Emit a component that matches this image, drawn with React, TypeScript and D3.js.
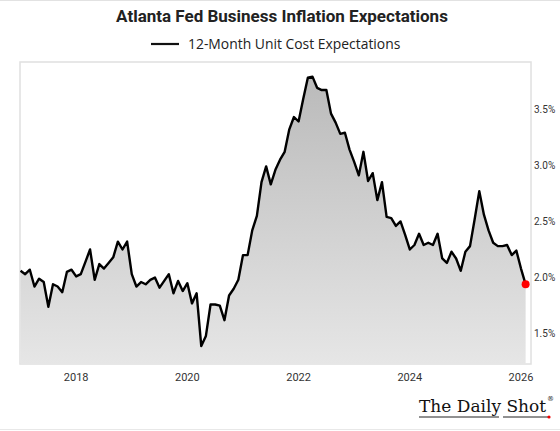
import React from 'react';
import * as d3 from 'd3';

// monthly readings, Jan 2017 .. Feb 2026
const startYear = 2017;
const unitCost = [
  2.06, 2.03, 2.07, 1.92, 1.99, 1.96, 1.74, 1.94, 1.92, 1.87, 2.05, 2.07,
  2.01, 2.03, 2.14, 2.25, 1.98, 2.12, 2.08, 2.13, 2.18, 2.32, 2.25, 2.32,
  2.03, 1.92, 1.96, 1.94, 1.98, 2.0, 1.91, 1.97, 2.03, 1.86, 1.97, 1.88,
  1.95, 1.77, 1.86, 1.39, 1.48, 1.76, 1.76, 1.75, 1.62, 1.84, 1.9, 1.98,
  2.2, 2.2, 2.42, 2.55, 2.85, 2.99, 2.83, 2.96, 3.05, 3.12, 3.32, 3.43,
  3.39, 3.59, 3.78, 3.79, 3.69, 3.67, 3.67, 3.46, 3.38, 3.28, 3.29, 3.14,
  3.03, 2.91, 3.12, 2.86, 2.93, 2.69, 2.85, 2.54, 2.53, 2.46, 2.5, 2.38,
  2.25, 2.29, 2.39, 2.29, 2.31, 2.29, 2.39, 2.17, 2.13, 2.23, 2.17, 2.06,
  2.23, 2.28, 2.52, 2.77, 2.56, 2.42, 2.31, 2.28, 2.28, 2.29, 2.2, 2.24,
  2.08, 1.94,
];
const xTicks = [2018, 2020, 2022, 2024, 2026];
const yTicks = [1.5, 2.0, 2.5, 3.0, 3.5];

const title = 'Atlanta Fed Business Inflation Expectations';
const seriesName = '12-Month Unit Cost Expectations';

const W = 560, H = 431;
const plot = { left: 20, right: 531, top: 62, bottom: 364 };
const font = 'Roboto, "Open Sans", sans-serif';

type Pt = { t: number; v: number };
const points: Pt[] = unitCost.map((v, i) => ({ t: startYear + i / 12, v }));

const x = d3.scaleLinear().domain([2016.99, 2026.18]).range([plot.left, plot.right]);
const y = d3.scaleLinear().domain([1.23, 3.92]).range([plot.bottom, plot.top]);

const linePath = d3.line<Pt>().x((d) => x(d.t)).y((d) => y(d.v))(points) || '';
const areaPath = d3.area<Pt>().x((d) => x(d.t)).y0(plot.bottom).y1((d) => y(d.v))(points) || '';

const App = () => {
  const last = points[points.length - 1];
  return (
    <svg width={W} height={H} style={{ display: 'block', position: 'absolute', left: 0, top: 0 }} fontFamily={font}>
      <defs>
        <linearGradient id="fillGrad" x1="0" y1={plot.top} x2="0" y2={plot.bottom} gradientUnits="userSpaceOnUse">
          <stop offset="0%" stopColor="#b8b8b8" />
          <stop offset="100%" stopColor="#e6e6e6" />
        </linearGradient>
      </defs>
      <rect x={0} y={0} width={W} height={H} fill="#fff" />
      <line x1={0} x2={W} y1={0.5} y2={0.5} stroke="#e2e2e2" />
      <line x1={0} x2={W} y1={429.5} y2={429.5} stroke="#e8e8e8" />

      {/* title and legend */}
      <text x={282} y={22} textAnchor="middle" fontSize={17} fontWeight={700} fill="#222">{title}</text>
      <line x1={151} x2={179} y1={44} y2={44} stroke="#111" strokeWidth={2.2} />
      <text x={188} y={49} fontSize={13.9} fill="#222" fontFamily='"Open Sans", sans-serif'>{seriesName}</text>

      {/* plot frame */}
      <rect x={plot.left} y={plot.top} width={plot.right - plot.left} height={plot.bottom - plot.top}
        fill="#fff" stroke="#e0e0e0" strokeWidth={1.5} />

      <path d={areaPath} fill="url(#fillGrad)" />
      <path d={linePath} fill="none" stroke="#000" strokeWidth={2.4} strokeLinejoin="round" />
      <circle cx={x(last.t)} cy={y(last.v)} r={4} fill="#ff0000" />

      {/* y axis on the right */}
      {yTicks.map((t) => (
        <text key={t} x={534} y={y(t) + 3.5} fontSize={10} fill="#333">{t.toFixed(1)}%</text>
      ))}
      {/* x axis */}
      {xTicks.map((t) => (
        <text key={t} x={x(t)} y={381} textAnchor="middle" fontSize={11} fill="#333">{t}</text>
      ))}

      {/* logo */}
      <g fontFamily='"DejaVu Serif", "Liberation Serif", serif' fill="#111">
        <text x={419} y={411.5} fontSize={17}>The Daily Shot</text>
        <text x={547} y={401} fontSize={7}>®</text>
        <line x1={419} x2={499} y1={417} y2={417} stroke="#222" strokeWidth={1} />
        <line x1={503} x2={548} y1={417} y2={417} stroke="#222" strokeWidth={1} />
        <circle cx={549} cy={417} r={1.6} fill="#e00" />
      </g>
    </svg>
  );
};

export default App;
